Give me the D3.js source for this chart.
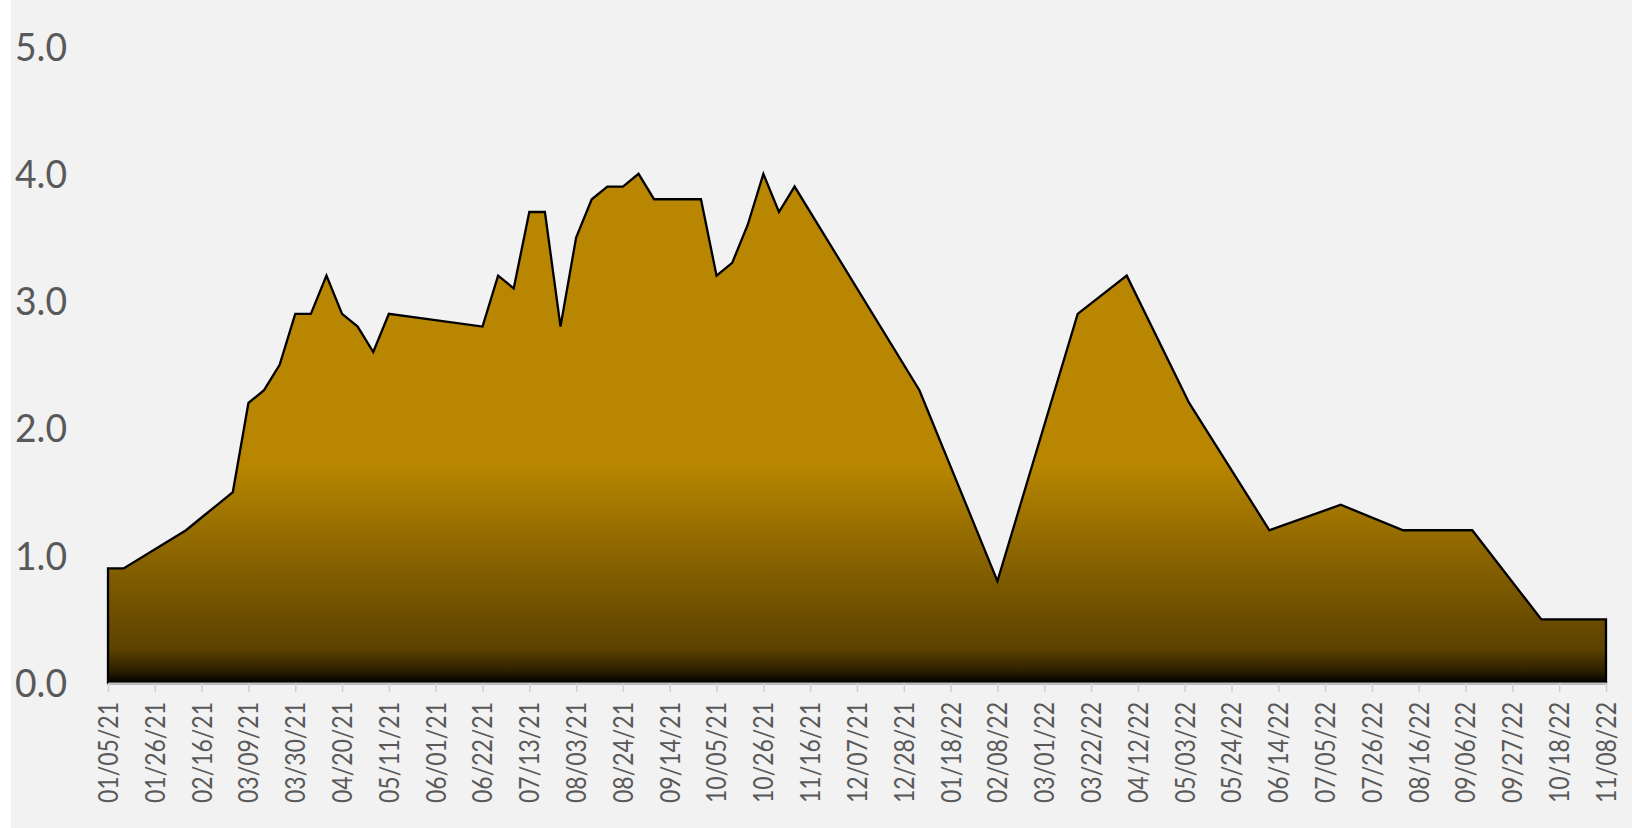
<!DOCTYPE html>
<html><head><meta charset="utf-8">
<script src="https://cdn.jsdelivr.net/npm/d3@7"></script>
<style>body{margin:0;background:#f2f2f2;overflow:hidden}</style>
</head><body>
<svg id="c" width="1632" height="828"></svg>
<script>
const dates = ["01/05/21","01/12/21","02/09/21","02/16/21","02/23/21","03/02/21","03/09/21","03/16/21","03/23/21","03/30/21",
"04/06/21","04/13/21","04/20/21","04/27/21","05/04/21","05/11/21","06/22/21","06/29/21","07/06/21","07/13/21",
"07/20/21","07/27/21","08/03/21","08/10/21","08/17/21","08/24/21","08/31/21","09/07/21","09/28/21","10/05/21",
"10/12/21","10/19/21","10/26/21","11/02/21","11/09/21","01/04/22","02/08/22","03/16/22","04/07/22","05/05/22",
"06/10/22","07/12/22","08/09/22","09/09/22","10/10/22","11/08/22"];
const values = [0.9,0.9,1.2,1.3,1.4,1.5,2.2,2.3,2.5,2.9,
2.9,3.2,2.9,2.8,2.6,2.9,2.8,3.2,3.1,3.7,
3.7,2.8,3.5,3.8,3.9,3.9,4.0,3.8,3.8,3.2,
3.3,3.6,4.0,3.7,3.9,2.3,0.8,2.9,3.2,2.2,
1.2,1.4,1.2,1.2,0.5,0.5];
const xTickLabels = ["01/05/21","01/26/21","02/16/21","03/09/21","03/30/21","04/20/21","05/11/21","06/01/21","06/22/21",
"07/13/21","08/03/21","08/24/21","09/14/21","10/05/21","10/26/21","11/16/21","12/07/21","12/28/21","01/18/22",
"02/08/22","03/01/22","03/22/22","04/12/22","05/03/22","05/24/22","06/14/22","07/05/22","07/26/22","08/16/22",
"09/06/22","09/27/22","10/18/22","11/08/22"];
const yTicks = [0,1,2,3,4,5];

const parse = d3.utcParse("%m/%d/%y");
const data = dates.map((d,i)=>({date:parse(d), v:values[i]}));
const svg = d3.select("#c");
svg.append("rect").attr("width",1632).attr("height",828).attr("fill","#ffffff");
svg.append("rect").attr("x",11).attr("width",1621).attr("height",828).attr("fill","#f2f2f2");

const x = d3.scaleUtc().domain([parse(xTickLabels[0]), parse(xTickLabels[xTickLabels.length-1])]).range([108,1606]);
const y = d3.scaleLinear().domain([0,5]).range([683,46.5]);

const defs = svg.append("defs");
const g = defs.append("linearGradient").attr("id","gr").attr("gradientUnits","userSpaceOnUse")
  .attr("x1",0).attr("x2",0).attr("y1",y(4)).attr("y2",y(0));
const stops = [[y(4),"#b88600"],[y(1.72),"#b88600"],[y(0.27),"#5c4200"],[y(0.1),"#2e2100"],[y(0),"#000000"]];
stops.forEach(([yy,c])=>g.append("stop").attr("offset",(yy-y(4))/(y(0)-y(4))).attr("stop-color",c));

const area = d3.area().x(d=>x(d.date)).y0(y(0)).y1(d=>y(d.v));
svg.append("path").datum(data).attr("d",area).attr("fill","url(#gr)")
  .attr("stroke","#000").attr("stroke-width",2.3).attr("stroke-linejoin","miter");

const xAxis = d3.axisBottom(x).tickValues(xTickLabels.map(parse)).tickSize(9).tickSizeOuter(0).tickFormat(d3.utcFormat("%m/%d/%y"));
const ax = svg.append("g").attr("transform",`translate(0,${y(0)})`).call(xAxis);
ax.select(".domain").attr("stroke","#bfbfbf").attr("stroke-width",2);
ax.selectAll(".tick line").attr("stroke","#d0d0d0").attr("stroke-width",1.5);
ax.selectAll(".tick text").attr("fill","#595959").attr("font-family","Lato").attr("font-size",26)
  .attr("text-anchor","end").attr("transform","rotate(-90)").attr("x",-19).attr("y",0).attr("dy","0.36em")
  .attr("textLength",101).attr("lengthAdjust","spacingAndGlyphs");

const yg = svg.append("g");
yg.selectAll("text").data(yTicks).join("text")
  .attr("x",67).attr("y",d=>y(d)+14).attr("text-anchor","end")
  .attr("fill","#595959").attr("font-family","Lato").attr("font-size",39)
  .attr("textLength",52).attr("lengthAdjust","spacingAndGlyphs")
  .text(d=>d.toFixed(1));
</script>
</body></html>
